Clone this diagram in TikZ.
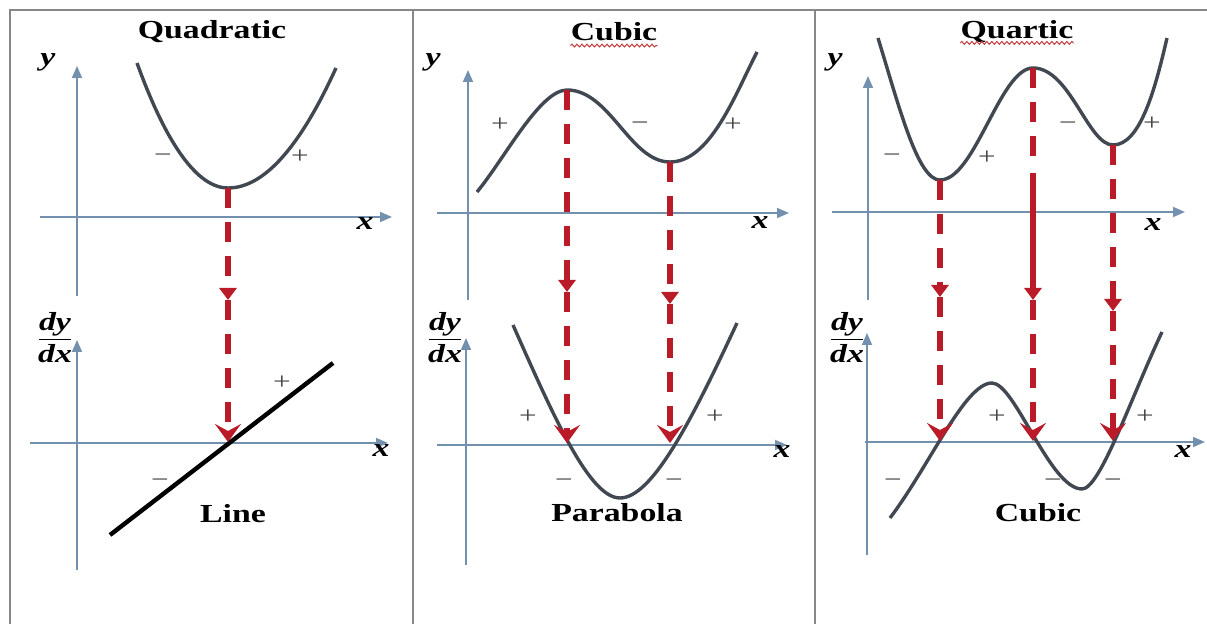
\documentclass[tikz,border=0pt]{standalone}
\usepackage{fontspec}
\setmainfont{Liberation Serif}[FakeStretch=1.3]
\usetikzlibrary{arrows.meta,decorations.pathmorphing}
\definecolor{axc}{RGB}{115,145,175}
\definecolor{curvc}{RGB}{65,72,82}
\definecolor{redc}{RGB}{185,28,40}
\definecolor{framec}{RGB}{135,135,135}
\definecolor{signc}{RGB}{70,70,70}
\begin{document}
\begin{tikzpicture}[x=0.5pt,y=-0.5pt,
 frame/.style={draw=framec,line width=1.2pt},
 axis/.style={draw=axc,line width=0.9pt,-{Triangle[length=6pt,width=5pt]}},
 crv/.style={draw=curvc,line width=1.7pt},
 blk/.style={draw=black,line width=2.2pt},
 rdash/.style={draw=redc,line width=3.4pt,dash pattern=on 10pt off 7pt},
 rsolid/.style={draw=redc,line width=3.4pt},
 midtip/.style={-{Triangle[length=6pt,width=8.5pt]}},
 endtip/.style={-{Stealth[length=9pt,width=13pt,inset=3.5pt]}},
 title/.style={font=\bfseries\fontsize{13}{15}\selectfont,text=black,inner sep=0pt},
 axlbl/.style={font=\bfseries\itshape\fontsize{13}{15}\selectfont,inner sep=0pt},
 sign/.style={font=\fontsize{12}{14}\selectfont,text=signc,inner sep=0pt},
 cname/.style={font=\bfseries\fontsize{13}{15}\selectfont,inner sep=0pt},
 frac/.style={font=\bfseries\itshape\fontsize{13}{16}\selectfont,inner sep=0pt,align=center},
 spell/.style={draw=red!55!gray,line width=0.5pt,decorate,decoration={snake,amplitude=0.7pt,segment length=2.5pt}}
]
\useasboundingbox (0,0) rectangle (1207,624);
% frame
\draw[frame] (10,624) -- (10,10) -- (1207,10);
\draw[frame] (413,10) -- (413,624);
\draw[frame] (815,10) -- (815,624);
% titles
\node[title] (t1) at (212,32) {Quadratic};
\node[title] (t2) at (614,32) {Cubic};
\node[title] (t3) at (1017,32) {Quartic};
\draw[spell] ([yshift=-2pt]t2.south west) -- ([yshift=-2pt]t2.south east);
\draw[spell] ([yshift=-2pt]t3.base west) -- ([yshift=-2pt]t3.base east);

% ===== Panel 1 =====
\draw[axis] (77,296) -- (77,66);
\draw[axis] (40,217) -- (392,217);
\node[axlbl] (y1) at (48,62) {y};
\node[axlbl] (x1) at (365,224) {x};
\draw[crv] (137,63) .. controls (167,146) and (198,188) .. (228,188) .. controls (264,188) and (300,147) .. (336,68);
\node[sign] (s11) at (163,158) {−};
\node[sign] (s12) at (300,157) {+};
\draw[axis] (77,570) -- (77,340);
\draw[axis] (30,443) -- (388,443);
\node[axlbl] (x1b) at (381,451) {x};
\node[frac] (f1) at (55,338) {\underline{dy}\\dx};
\coordinate (l1a) at (110,535);
\coordinate (l1b) at (333,363);
\draw[blk] (l1a) -- (l1b);
\node[sign] (s13) at (282,383) {+};
\node[sign] (s14) at (160,483) {−};
\node[cname] (n1) at (233,514) {Line};
\coordinate (p1v) at (228,188);
\coordinate (p1m) at (228,300);
\coordinate (p1z) at (228,442);
\draw[rdash,midtip] (p1v) -- (p1m);
\draw[rdash,endtip] (p1m) -- (p1z);

% ===== Panel 2 =====
\draw[axis] (468,300) -- (468,70);
\draw[axis] (437,213) -- (789,213);
\node[axlbl] (y2) at (433,62) {y};
\node[axlbl] (x2) at (760,223) {x};
\draw[crv] (477,192) .. controls (505,158) and (540,90) .. (567,90) .. controls (610,90) and (630,162) .. (670,162) .. controls (710,162) and (735,95) .. (757,52);
\node[sign] (s21) at (500,125) {+};
\node[sign] (s22) at (640,126) {−};
\node[sign] (s23) at (733,125) {+};
\draw[axis] (466,565) -- (466,338);
\draw[axis] (437,445) -- (787,445);
\node[axlbl] (x2b) at (782,452) {x};
\node[frac] (f2) at (445,338) {\underline{dy}\\dx};
\draw[crv] (513,325) .. controls (555,420) and (590,498) .. (620,498) .. controls (652,498) and (692,420) .. (737,323);
\node[sign] (s24) at (528,417) {+};
\node[sign] (s25) at (715,417) {+};
\node[sign] (s26) at (564,483) {−};
\node[sign] (s27) at (674,483) {−};
\node[cname] (n2) at (617,513) {Parabola};
\coordinate (c2a) at (567,90);
\coordinate (c2am) at (567,292);
\coordinate (c2az) at (567,443);
\coordinate (c2b) at (670,162);
\coordinate (c2bm) at (670,304);
\coordinate (c2bz) at (670,443);
\draw[rdash,midtip] (c2a) -- (c2am);
\draw[rdash,endtip] (c2am) -- (c2az);
\draw[rdash,midtip] (c2b) -- (c2bm);
\draw[rdash,endtip] (c2bm) -- (c2bz);

% ===== Panel 3 =====
\draw[axis] (868,300) -- (868,76);
\draw[axis] (832,212) -- (1185,212);
\node[axlbl] (y3) at (835,62) {y};
\node[axlbl] (x3) at (1153,225) {x};
\draw[crv] (878,38) .. controls (900,110) and (918,180) .. (940,180) .. controls (975,180) and (1000,68) .. (1033,68) .. controls (1070,68) and (1088,145) .. (1113,145) .. controls (1140,145) and (1155,90) .. (1167,38);
\node[sign] (s31) at (892,158) {−};
\node[sign] (s32) at (987,158) {+};
\node[sign] (s33) at (1068,126) {−};
\node[sign] (s34) at (1152,124) {+};
\draw[axis] (867,555) -- (867,333);
\draw[axis] (865,442) -- (1205,442);
\node[axlbl] (x3b) at (1183,452) {x};
\node[frac] (f3) at (847,338) {\underline{dy}\\dx};
\draw[crv] (890,518) .. controls (930,465) and (965,383) .. (992,383) .. controls (1015,383) and (1050,489) .. (1082,489) .. controls (1100,489) and (1130,400) .. (1162,332);
\node[sign] (s35) at (893,483) {−};
\node[sign] (s36) at (997,417) {+};
\node[sign] (s37) at (1053,483) {−};
\node[sign] (s38) at (1113,483) {−};
\node[sign] (s39) at (1145,417) {+};
\node[cname] (n3) at (1038,513) {Cubic};
\coordinate (q3a) at (940,180);
\coordinate (q3am) at (940,297);
\coordinate (q3az) at (940,441);
\coordinate (q3b) at (1033,68);
\coordinate (q3b1) at (1033,160);
\coordinate (q3b2) at (1033,173);
\coordinate (q3bm) at (1033,300);
\coordinate (q3bz) at (1033,441);
\coordinate (q3c) at (1113,145);
\coordinate (q3cm) at (1113,311);
\coordinate (q3cz) at (1113,441);
\draw[rdash,midtip] (q3a) -- (q3am);
\draw[rdash,endtip] (q3am) -- (q3az);
\draw[rdash] (q3b) -- (q3b1);
\draw[rsolid,midtip] (q3b2) -- (q3bm);
\draw[rdash,endtip] (q3bm) -- (q3bz);
\draw[rdash,midtip] (q3c) -- (q3cm);
\draw[rdash,endtip] (q3cm) -- (q3cz);
\end{tikzpicture}
\end{document}
